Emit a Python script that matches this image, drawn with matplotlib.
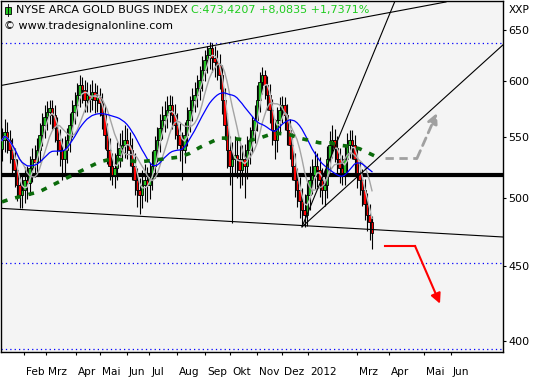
import numpy as np
import pandas as pd
import matplotlib
matplotlib.use("Agg")
import matplotlib.pyplot as plt
from matplotlib.patches import Rectangle
from matplotlib.ticker import NullLocator, FixedLocator
import matplotlib.transforms as mtrans

# ---- daten (1 Kerze ~ 2 Handelstage) ----
closes = [547, 554, 547, 539, 531, 522, 510, 502, 506, 514, 512, 524, 531, 529, 539, 552, 560, 567, 572, 575,
          569, 558, 547, 539, 531, 539, 547, 560, 572, 578, 587, 596, 592, 583, 587, 584, 590, 583, 585, 580,
          569, 552, 539, 526, 518, 524, 535, 541, 543, 547, 543, 539, 526, 514, 506, 502, 510, 514, 510, 516,
          526, 539, 547, 558, 565, 569, 574, 578, 569, 560, 552, 543, 539, 552, 565, 574, 583, 587, 594, 601,
          611, 620, 625, 632, 622, 618, 615, 606, 583, 560, 539, 526, 531, 535, 531, 522, 531, 526, 539, 547,
          556, 565, 583, 599, 606, 596, 587, 574, 556, 547, 565, 574, 578, 569, 556, 543, 526, 514, 506, 498,
          491, 487, 502, 514, 518, 526, 522, 514, 506, 510, 531, 543, 547, 541, 531, 524, 520, 531, 543, 547,
          543, 531, 520, 514, 506, 495, 487, 482, 473.42]
highs = [558, 566, 563, 556, 549, 541, 531, 519, 518, 525, 526, 534, 541, 543, 549, 562, 571, 578, 582, 583,
         583, 578, 567, 557, 549, 551, 558, 571, 583, 590, 598, 606, 604, 601, 599, 597, 601, 598, 596, 594,
         589, 578, 562, 549, 536, 536, 546, 553, 556, 560, 558, 554, 549, 536, 524, 516, 522, 527, 525, 528,
         538, 551, 559, 570, 577, 582, 586, 587, 586, 579, 571, 562, 554, 563, 576, 586, 594, 599, 606, 614,
         624, 630, 634, 638, 637, 634, 630, 626, 615, 594, 571, 551, 546, 551, 549, 543, 543, 544, 551, 559,
         568, 578, 596, 609, 613, 611, 605, 597, 584, 566, 576, 585, 586, 585, 579, 566, 553, 536, 524, 517,
         508, 503, 513, 526, 531, 538, 536, 533, 524, 523, 542, 555, 560, 557, 551, 541, 535, 543, 553, 556,
         556, 552, 540, 530, 523, 515, 504, 495, 486]
lows = [530, 537, 536, 528, 520, 509, 498, 492, 492, 496, 499, 502, 513, 517, 519, 529, 542, 549, 556, 561,
        557, 546, 535, 526, 514, 520, 528, 537, 550, 561, 568, 576, 580, 572, 572, 572, 574, 571, 572, 568,
        557, 540, 527, 514, 510, 508, 514, 525, 530, 532, 531, 526, 514, 502, 493, 488, 492, 498, 497, 499,
        506, 516, 529, 537, 548, 554, 558, 563, 557, 548, 540, 530, 514, 528, 542, 554, 564, 572, 576, 583,
        591, 600, 608, 612, 609, 604, 601, 593, 570, 547, 524, 510, 481, 518, 516, 508, 510, 500, 515, 527,
        536, 545, 555, 572, 588, 584, 574, 562, 543, 531, 537, 554, 562, 556, 543, 531, 514, 501, 493, 485,
        479, 478, 479, 491, 503, 507, 509, 501, 495, 494, 500, 521, 532, 529, 519, 512, 510, 510, 521, 532,
        531, 519, 508, 502, 494, 483, 475, 468, 462]
first_open = 540

# 200-Tage-Linie (gruen gestrichelt)
ma200_pos = [0, 3, 7, 11, 15, 19, 23, 27, 31, 35, 39, 43, 47, 51, 55, 59, 63, 67, 71, 75,
             79, 83, 87, 91, 95, 99, 103, 107, 111, 115, 119, 123, 127, 131, 135, 139, 143, 147, 150]
ma200_val = [497, 499, 501, 503, 505, 509, 513, 517, 521, 525, 529, 531, 531, 530, 529, 530, 531, 532, 533, 536,
             541, 545, 549, 549, 548, 547, 549, 552, 553, 552, 549, 547, 545, 545, 543, 542, 540, 536, 533]

# Monatsmarken (Kerzenindex)
month_pos = [8.8, 17.4, 29.5, 39, 49.8, 58.9, 69.8, 81.3, 91.2, 101.8, 112.1, 122.5, 142, 154.7, 168.6, 179.4]
month_lab = ["Feb", "Mrz", "Apr", "Mai", "Jun", "Jul", "Aug", "Sep", "Okt", "Nov", "Dez", "2012",
             "Mrz", "Apr", "Mai", "Jun"]

# Trendlinien (Kerzenindex, Kurs)
top_line = [(-0.4, 596), (177.6, 679)]
bottom_line = [(-0.4, 492), (200.4, 470.5)]
steep_line = [(120.0, 478), (157.2, 680)]
mid_line = [(120.0, 478), (200.4, 635)]
support = 518.5
dotted_levels = [637, 452, 395]
up_arrow = [(153.2, 532), (166.0, 532), (174.0, 571)]
down_arrow = [(153.2, 464), (165.2, 464), (175.2, 424)]

W, H = 533, 380
fig = plt.figure(figsize=(W / 100, H / 100), dpi=100)
fig.patch.set_facecolor("white")
ax = fig.add_axes([1 / W, 28 / H, 502 / W, 351 / H])
ax.set_facecolor("#f4f4f4")
ax.set_yscale("log")
ax.set_ylim(393.2, 680)
ax.set_xlim(-0.4, 200.4)

x = np.arange(len(closes))
c = np.array(closes, dtype=float)
o = np.concatenate([[first_open], c[:-1]])
h = np.array(highs, dtype=float)
l = np.array(lows, dtype=float)

# Hilfslinien
for lev in dotted_levels:
    ax.axhline(lev, color="#0000ff", lw=0.9, linestyle=(0, (1, 2.5)), zorder=1)
ax.axhline(support, color="black", lw=3, zorder=2)

# Kerzen
ax.vlines(x, l, h, color="black", lw=0.8, zorder=3)
up = c >= o
cols = np.where(up, "#22c322", "#ff0000")
ax.bar(x, np.maximum(np.abs(c - o), 0.6), bottom=np.minimum(o, c), width=0.9,
       color=cols, edgecolor="black", linewidth=0.6, zorder=4)

# gleitende Durchschnitte
s = pd.Series(c)
ax.plot(x, s.rolling(4, min_periods=1).mean(), color="#c4c4c4", lw=1, zorder=5)
ax.plot(x, s.rolling(9, min_periods=1).mean(), color="#a4a4a4", lw=1, zorder=5)
ax.plot(x, s.rolling(20, min_periods=1).mean(), color="#0000ff", lw=0.9, zorder=6)
ax.plot(ma200_pos, ma200_val, color="#0b6b0b", lw=2.6, linestyle=(0, (1.6, 2.2)), zorder=6)

# Trendlinien
for line in [top_line, bottom_line, steep_line, mid_line]:
    ax.plot([p[0] for p in line], [p[1] for p in line], color="black", lw=0.8, zorder=7)

# Szenario-Pfeile
ax.plot([p[0] for p in up_arrow[:2]], [p[1] for p in up_arrow[:2]], color="#a0a0a0", lw=2,
        linestyle=(0, (3, 2)), zorder=7)
ax.annotate("", xy=up_arrow[2], xytext=up_arrow[1],
            arrowprops=dict(arrowstyle="-|>,head_length=0.6,head_width=0.3", color="#a0a0a0", lw=2,
                            linestyle=(0, (3, 2)), shrinkA=0, shrinkB=0))
ax.plot([p[0] for p in down_arrow[:2]], [p[1] for p in down_arrow[:2]], color="#ff0000", lw=1.5, zorder=7)
ax.annotate("", xy=down_arrow[2], xytext=down_arrow[1],
            arrowprops=dict(arrowstyle="-|>,head_length=0.6,head_width=0.3", color="#ff0000", lw=1.5,
                            shrinkA=0, shrinkB=0))

# Achsen
ax.yaxis.tick_right()
ax.set_yticks([400, 450, 500, 550, 600, 650])
ax.set_yticklabels(["400", "450", "500", "550", "600", "650"])
ax.yaxis.set_minor_locator(NullLocator())
ax.tick_params(axis="y", direction="out", length=2.5, width=0.8, pad=1.5, labelsize=8)
ax.xaxis.set_major_locator(FixedLocator(month_pos))
ax.set_xticklabels(month_lab)
ax.xaxis.set_minor_locator(NullLocator())
ax.tick_params(axis="x", direction="out", length=2.5, width=0.8, pad=8, labelsize=7.6)
off = mtrans.ScaledTranslation(2 / 100, 0, fig.dpi_scale_trans)
for lab in ax.get_xticklabels():
    lab.set_horizontalalignment("left")
    lab.set_transform(lab.get_transform() + off)
for sp in ax.spines.values():
    sp.set_color("black")
    sp.set_linewidth(1)

# Kopfzeile
fig.add_artist(Rectangle((5 / W, 1 - 14 / H), 6 / W, 7 / H, transform=fig.transFigure,
                         facecolor="#22c322", edgecolor="black", lw=0.6))
fig.add_artist(plt.Line2D([8 / W, 8 / W], [1 - 16 / H, 1 - 4 / H], transform=fig.transFigure,
                          color="black", lw=0.6))
t1 = fig.text(16 / W, 1 - 10 / H, "NYSE ARCA GOLD BUGS INDEX ", fontsize=8, va="center", ha="left")
ax.annotate("C:473,4207 +8,0835 +1,7371%", xy=(1, 0), xycoords=t1, va="bottom", ha="left",
            fontsize=8, color="#1fcc1f", annotation_clip=False)
fig.text(4 / W, 1 - 26 / H, "\u00a9 www.tradesignalonline.com", fontsize=8, va="center", ha="left")
fig.text(509 / W, 1 - 10 / H, "XXP", fontsize=7.6, va="center", ha="left")

fig.savefig("out.png", dpi=100)
